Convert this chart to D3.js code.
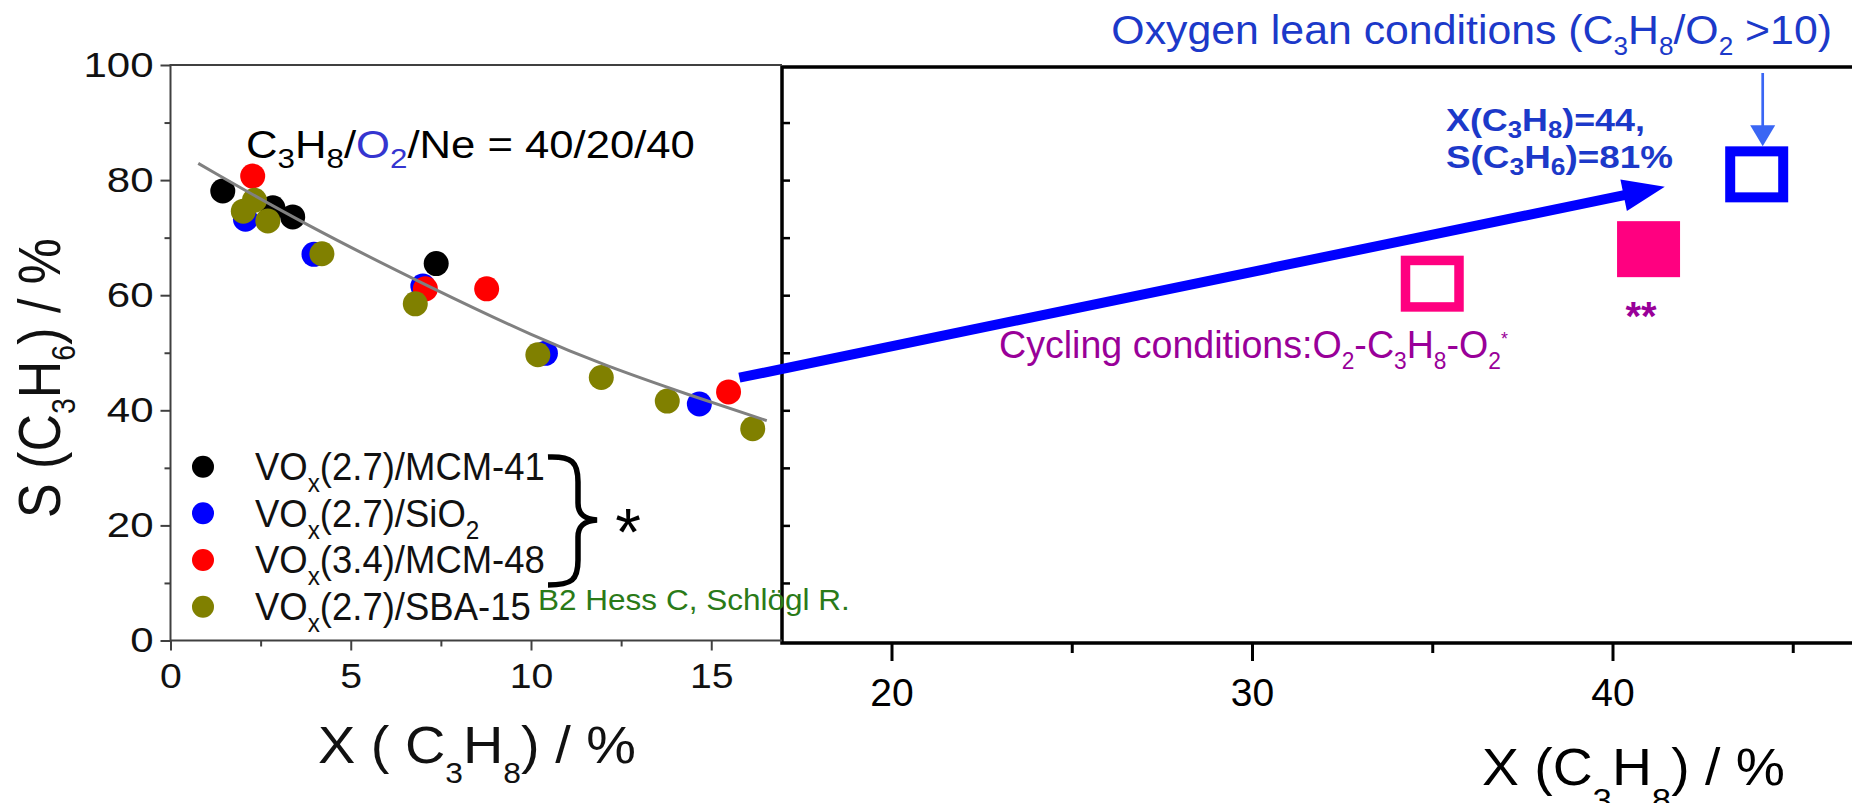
<!DOCTYPE html>
<html>
<head>
<meta charset="utf-8">
<script src="https://cdn.jsdelivr.net/npm/d3@7"></script>
<style>
  html, body { margin: 0; padding: 0; background: #fff; }
  svg { display: block; }
  text { font-family: "Liberation Sans", Arial, sans-serif; white-space: pre; }
</style>
</head>
<body>
<svg id="chart" width="1852" height="803"></svg>
<script>
// ---------------- data ----------------
// Selectivity S(C3H6) vs conversion X(C3H8), both in %
const seriesNames = ["VOx(2.7)/MCM-41", "VOx(2.7)/SiO2", "VOx(3.4)/MCM-48", "VOx(2.7)/SBA-15"];
const mcm41 = [[1.45, 78.1], [2.84, 75.2], [3.39, 73.6], [7.37, 65.5]];
const sio2  = [[2.08, 73.2], [3.98, 67.1], [7.0, 61.6], [10.4, 49.9], [14.67, 41.1]];
const mcm48 = [[2.28, 80.7], [7.07, 61.1], [8.77, 61.1], [15.48, 43.2]];
const sba15 = [[2.02, 74.6], [2.33, 76.5], [2.7, 72.9], [4.2, 67.2], [6.79, 58.5],
               [10.19, 49.65], [11.95, 45.7], [13.78, 41.6], [16.15, 36.8]];
// trend curve through the co-feed points
const trendCurve = [[0.77, 82.9], [3.68, 72.4], [7.38, 60.8], [10.16, 52.6], [12.0, 47.9], [14.41, 42.6], [16.54, 38.2]];
// cycling / oxygen-lean operating points
const cyclingOpen   = [35, 62];
const cyclingFilled = [41, 68];
const oxygenLean    = [44, 81];
// big arrow from the co-feed regime to the oxygen-lean result
const jumpArrow = [[15.78, 45.66], [41.45, 78.85]];

// ticks
const yTicks = [0, 20, 40, 60, 80, 100];
const yMinor = [10, 30, 50, 70, 90];
const leftXTicks = [0, 5, 10, 15];
const leftXMinor = [2.5, 7.5, 12.5];
const rightXTicks = [20, 30, 40];
const rightXMinor = [25, 35, 45];
const rightYTicks = [10, 20, 30, 40, 50, 60, 70, 80, 90];

// ---------------- setup ----------------
const svg = d3.select("#chart");
const x = d3.scaleLinear().domain([0, 10]).range([170.5, 531]);
const y = d3.scaleLinear().domain([0, 100]).range([640.5, 65]);

const axisGray = "#404040";
const leanBlue = "#1c39c9";
const purple = "#990099";
const pink = "#ff0080";

const seriesColors = ["#000000", "#0000ff", "#ff0000", "#808000"];
const seriesData = [mcm41, sio2, mcm48, sba15];

function scaleAbout(sel, k, ax) {
  sel.attr("transform", `translate(${ax},0) scale(${k},1) translate(${-ax},0)`);
}
function fitWidth(sel, target, ax) {
  const w = sel.node().getBBox().width;
  const k = target / w;
  scaleAbout(sel, k, ax);
  return k;
}
// text with sub/superscript pieces
function rich(parent, parts, o) {
  const t = parent.append("text")
    .attr("x", o.x).attr("y", o.y)
    .attr("font-size", o.size)
    .attr("fill", o.fill || "#000")
    .attr("text-anchor", o.anchor || "start");
  if (o.family) t.attr("font-family", o.family);
  if (o.weight) t.attr("font-weight", o.weight);
  let cur = 0;
  parts.forEach(p => {
    const s = typeof p === "string" ? { t: p } : p;
    const shift = s.sub ? o.subDy : (s.sup ? -o.supDy : 0);
    const ts = t.append("tspan").text(s.t).attr("dy", shift - cur);
    cur = shift;
    if (s.sub) ts.attr("font-size", o.subSize);
    if (s.sup) ts.attr("font-size", o.supSize);
    if (s.fill) ts.attr("fill", s.fill);
  });
  return t;
}

// ---------------- right frame ----------------
const frameX = 782, frameTop = 67, frameBottom = 643;
const right = svg.append("g");
right.append("path")
  .attr("d", `M1852,${frameTop}H${frameX}V${frameBottom}H1852`)
  .attr("fill", "none").attr("stroke", "#000").attr("stroke-width", 3.5);

const rb = right.append("g").attr("transform", `translate(0,${frameBottom})`)
  .call(d3.axisBottom(x).tickValues(rightXTicks).tickSize(18).tickPadding(17).tickSizeOuter(0));
rb.select(".domain").remove();
rb.selectAll("line").attr("stroke", "#000").attr("stroke-width", 3);
rb.selectAll("text").attr("font-size", 39).attr("fill", "#000")
  .attr("font-family", "Liberation Sans, Arial, sans-serif");
const rbm = right.append("g").attr("transform", `translate(0,${frameBottom})`)
  .call(d3.axisBottom(x).tickValues(rightXMinor).tickSize(10).tickFormat("").tickSizeOuter(0));
rbm.select(".domain").remove();
rbm.selectAll("line").attr("stroke", "#000").attr("stroke-width", 3);

const rl = right.append("g").attr("transform", `translate(${frameX},0)`)
  .call(d3.axisRight(y).tickValues(rightYTicks).tickSize(8).tickFormat("").tickSizeOuter(0));
rl.select(".domain").remove();
rl.selectAll("line").attr("stroke", "#000").attr("stroke-width", 2.5);

// right axis title
const xtR = rich(svg, ["X (C", { t: "3", sub: true }, "H", { t: "8", sub: true }, ") / %"],
  { x: 1482, y: 785, size: 51, subSize: 32, subDy: 26 });
fitWidth(xtR, 303, 1482);

// ---------------- left panel ----------------
const left = svg.append("g");
left.append("path")
  .attr("d", `M${frameX},${y(100)}H${x(0)}V${y(0)}H${frameX}`)
  .attr("fill", "none").attr("stroke", axisGray).attr("stroke-width", 2);

const ly = left.append("g").attr("transform", `translate(${x(0)},0)`)
  .call(d3.axisLeft(y).tickValues(yTicks).tickSize(10).tickPadding(7).tickSizeOuter(0));
ly.select(".domain").remove();
ly.selectAll("line").attr("stroke", axisGray).attr("stroke-width", 2);
ly.selectAll("text").attr("font-size", 35).attr("fill", "#111")
  .attr("font-family", "Liberation Sans, Arial, sans-serif")
  .each(function () { const t = d3.select(this); scaleAbout(t, 1.2, +t.attr("x")); });
const lym = left.append("g").attr("transform", `translate(${x(0)},0)`)
  .call(d3.axisLeft(y).tickValues(yMinor).tickSize(6).tickFormat("").tickSizeOuter(0));
lym.select(".domain").remove();
lym.selectAll("line").attr("stroke", axisGray).attr("stroke-width", 2);

const lx = left.append("g").attr("transform", `translate(0,${y(0)})`)
  .call(d3.axisBottom(x).tickValues(leftXTicks).tickSize(10).tickPadding(13).tickSizeOuter(0));
lx.select(".domain").remove();
lx.selectAll("line").attr("stroke", axisGray).attr("stroke-width", 2);
lx.selectAll("text").attr("font-size", 35).attr("fill", "#111")
  .attr("font-family", "Liberation Sans, Arial, sans-serif")
  .each(function () { const t = d3.select(this); scaleAbout(t, 1.12, 0); });
const lxm = left.append("g").attr("transform", `translate(0,${y(0)})`)
  .call(d3.axisBottom(x).tickValues(leftXMinor).tickSize(6).tickFormat("").tickSizeOuter(0));
lxm.select(".domain").remove();
lxm.selectAll("line").attr("stroke", axisGray).attr("stroke-width", 2);

// axis titles
const xtL = rich(left, ["X ( C", { t: "3", sub: true }, "H", { t: "8", sub: true }, ") / %"],
  { x: 318, y: 763, size: 51, subSize: 29, subDy: 20, fill: "#111" });
fitWidth(xtL, 318, 318);

const ytG = left.append("g").attr("transform", "translate(60,378) rotate(-90)");
const ytL = rich(ytG, ["S (C", { t: "3", sub: true }, "H", { t: "6", sub: true }, ") / %"],
  { x: 0, y: 0, size: 60, subSize: 33, subDy: 15, anchor: "middle", fill: "#111" });
fitWidth(ytL, 280, 0);

// data points
seriesData.forEach((data, i) => {
  left.append("g").selectAll("circle").data(data).join("circle")
    .attr("cx", d => x(d[0])).attr("cy", d => y(d[1]))
    .attr("r", 12.5).attr("fill", seriesColors[i]);
});

// trend curve
left.append("path").datum(trendCurve)
  .attr("d", d3.line().x(d => x(d[0])).y(d => y(d[1])).curve(d3.curveBasis))
  .attr("fill", "none").attr("stroke", "#808080").attr("stroke-width", 3);

// feed composition note
const feed = rich(left, ["C", { t: "3", sub: true }, "H", { t: "8", sub: true }, "/",
  { t: "O", fill: "#3535d0" }, { t: "2", sub: true, fill: "#3535d0" }, "/Ne = 40/20/40"],
  { x: 246, y: 158, size: 39, subSize: 28, subDy: 10 });
fitWidth(feed, 449, 246);

// legend
const legendRows = [466.7, 513.3, 560, 606.7];
const legend = left.append("g");
let legendK = null;
seriesNames.forEach((name, i) => {
  const ry = legendRows[i];
  legend.append("circle").attr("cx", 203).attr("cy", ry).attr("r", 11).attr("fill", seriesColors[i]);
  const m = name.match(/^VOx(\(.*\)\/)(.*)$/);
  const tail = m[2];
  const parts = ["VO", { t: "x", sub: true }, m[1]];
  if (tail === "SiO2") { parts.push("SiO", { t: "2", sub: true }); } else { parts.push(tail); }
  const t = rich(legend, parts, { x: 255, y: ry + 13.5, size: 39, subSize: 26, subDy: 12, fill: "#111" });
  if (legendK === null) legendK = fitWidth(t, 290, 255); else scaleAbout(t, legendK, 255);
});

// brace grouping the first three catalysts
legend.append("path")
  .attr("d", "M548,457 C572,456 578,462 578,482 L578,503 C578,514 584,519 597,520 C584,521 578,526 578,537 L578,560 C578,580 572,585 548,585")
  .attr("fill", "none").attr("stroke", "#000").attr("stroke-width", 5.5);
legend.append("text").text("*")
  .attr("x", 628).attr("y", 555).attr("text-anchor", "middle")
  .attr("font-size", 66).attr("fill", "#000");

// reference note
const ref = left.append("text").text("B2 Hess C, Schlögl R.")
  .attr("x", 538).attr("y", 610).attr("font-size", 30)
  .attr("font-family", "DejaVu Sans, Verdana, sans-serif").attr("fill", "#2a7a18");
fitWidth(ref, 312, 538);

// ---------------- annotations on the wide panel ----------------
const ann = svg.append("g");
const boxW = 63, boxH = 56;

// cycling, open square
ann.append("rect")
  .attr("x", x(cyclingOpen[0]) - (boxW - 9.5) / 2).attr("y", y(cyclingOpen[1]) - (boxH - 9.5) / 2)
  .attr("width", boxW - 9.5).attr("height", boxH - 9.5)
  .attr("fill", "none").attr("stroke", pink).attr("stroke-width", 9.5);
// cycling, filled square
ann.append("rect")
  .attr("x", x(cyclingFilled[0]) - boxW / 2).attr("y", y(cyclingFilled[1]) - boxH / 2)
  .attr("width", boxW).attr("height", boxH).attr("fill", pink);
// oxygen lean, open blue square
ann.append("rect")
  .attr("x", x(oxygenLean[0]) - (boxW - 10) / 2).attr("y", y(oxygenLean[1]) - (boxH - 10) / 2)
  .attr("width", boxW - 10).attr("height", boxH - 10)
  .attr("fill", "none").attr("stroke", "#0000ff").attr("stroke-width", 10);

// thin pointer onto the blue square
const px = x(oxygenLean[0]) + 6, pTip = y(oxygenLean[1]) - boxH / 2;
ann.append("line").attr("x1", px).attr("x2", px).attr("y1", 73).attr("y2", pTip - 18)
  .attr("stroke", "#3a66f4").attr("stroke-width", 2.7);
ann.append("path")
  .attr("d", `M${px - 12.5},${pTip - 21}L${px + 12.5},${pTip - 21}L${px},${pTip}Z`)
  .attr("fill", "#3a66f4");

// big arrow
const p0 = [x(jumpArrow[0][0]), y(jumpArrow[0][1])];
const p1 = [x(jumpArrow[1][0]), y(jumpArrow[1][1])];
const ang = Math.atan2(p1[1] - p0[1], p1[0] - p0[0]);
const ux = Math.cos(ang), uy = Math.sin(ang);
const headLen = 42, headHalf = 16;
const base = [p1[0] - headLen * ux, p1[1] - headLen * uy];
ann.append("line")
  .attr("x1", p0[0]).attr("y1", p0[1])
  .attr("x2", base[0] + 2 * ux).attr("y2", base[1] + 2 * uy)
  .attr("stroke", "#0000ff").attr("stroke-width", 10);
ann.append("path")
  .attr("d", `M${p1[0]},${p1[1]}L${base[0] - headHalf * uy},${base[1] + headHalf * ux}L${base[0] + headHalf * uy},${base[1] - headHalf * ux}Z`)
  .attr("fill", "#0000ff");

// labels
const lean = rich(ann, ["Oxygen lean conditions (C", { t: "3", sub: true }, "H", { t: "8", sub: true },
  "/O", { t: "2", sub: true }, " >10)"],
  { x: 1832, y: 44, size: 41, subSize: 25, subDy: 11, fill: leanBlue, anchor: "end" });
fitWidth(lean, 721, 1832);

const res1 = rich(ann, ["X(C", { t: "3", sub: true }, "H", { t: "8", sub: true }, ")=44,"],
  { x: 1446, y: 131.5, size: 32, subSize: 23, subDy: 7, fill: leanBlue, weight: "bold",
    family: "DejaVu Sans, Verdana, sans-serif" });
fitWidth(res1, 199, 1446);
const res2 = rich(ann, ["S(C", { t: "3", sub: true }, "H", { t: "6", sub: true }, ")=81%"],
  { x: 1446, y: 168.3, size: 32, subSize: 23, subDy: 7, fill: leanBlue, weight: "bold",
    family: "DejaVu Sans, Verdana, sans-serif" });
fitWidth(res2, 227, 1446);

const cyc = rich(ann, ["Cycling conditions:O", { t: "2", sub: true }, "-C", { t: "3", sub: true }, "H",
  { t: "8", sub: true }, "-O", { t: "2", sub: true }, { t: "*", sup: true }],
  { x: 999, y: 358.3, size: 38, subSize: 23, subDy: 11, supSize: 18, supDy: 13, fill: purple });
fitWidth(cyc, 509, 999);

ann.append("text").text("**")
  .attr("x", 1641).attr("y", 330).attr("text-anchor", "middle")
  .attr("font-size", 40).attr("font-weight", "bold")
  .attr("font-family", "DejaVu Sans, Verdana, sans-serif").attr("fill", purple);
</script>
</body>
</html>
